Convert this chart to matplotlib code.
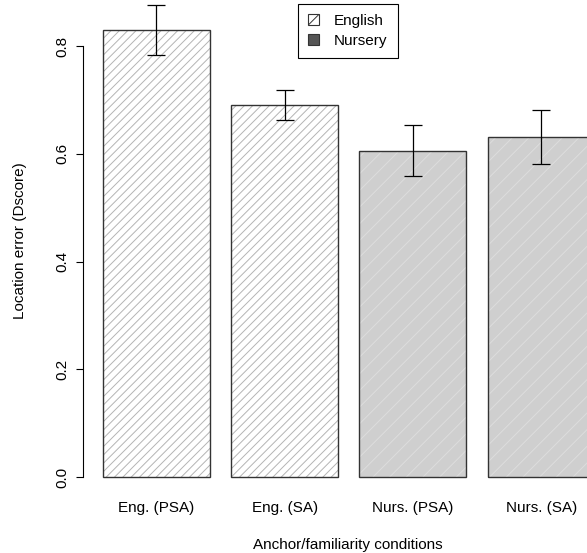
import numpy as np
import matplotlib.pyplot as plt
from matplotlib.patches import Patch

plt.rcParams['font.family'] = ['Liberation Sans', 'DejaVu Sans']
plt.rcParams['hatch.linewidth'] = 0.7

# mean location error and standard error per condition
conditions = ['Eng. (PSA)', 'Eng. (SA)', 'Nurs. (PSA)', 'Nurs. (SA)']
familiarity = ['English', 'English', 'Nursery', 'Nursery']
dscore = [0.830, 0.691, 0.606, 0.631]
se = [0.047, 0.028, 0.048, 0.050]

yticks = [0.0, 0.2, 0.4, 0.6, 0.8]

fig = plt.figure(figsize=(5.87, 5.53), dpi=100)
W, H = 587, 553
ax = fig.add_axes([83 / W, 1 - 490 / H, 504 / W, 490 / H])

# barplot layout: width 1, space 0.2
x = 0.2 + np.arange(len(dscore)) * 1.2 + 0.5

fill = {'English': 'white', 'Nursery': '#cfcfcf'}
hatchcol = {'English': '#b4b4b4', 'Nursery': '#dddddd'}
hatches = {'English': '////', 'Nursery': '//'}

for xi, v, f in zip(x, dscore, familiarity):
    ax.bar(xi, v, width=1.0, color=fill[f], edgecolor=hatchcol[f],
           hatch=hatches[f], linewidth=0)
    ax.bar(xi, v, width=1.0, fill=False, edgecolor='#333333', linewidth=1.0)

ax.errorbar(x, dscore, yerr=se, fmt='none', ecolor='black',
            elinewidth=0.9, capsize=6.5, capthick=0.9)

ax.set_xlim(0.016, 0.016 + 504 / 107)
ax.set_ylim(-13 / 538.75, 477 / 538.75)

for s in ['top', 'right', 'bottom']:
    ax.spines[s].set_visible(False)
ax.spines['left'].set_bounds(0, 0.8)
ax.spines['left'].set_linewidth(0.8)

ax.set_yticks(yticks)
ax.set_yticklabels([f'{t:.1f}' for t in yticks], rotation=90, va='center',
                   fontsize=11)
ax.tick_params(axis='y', length=5, width=0.8, pad=5)

ax.set_xticks(x)
ax.set_xticklabels(conditions, fontsize=11)
ax.tick_params(axis='x', length=0, pad=8)

ax.set_ylabel('Location error (Dscore)', fontsize=11)
ax.yaxis.set_label_coords((20 - 83) / 504, (490 - 241) / 490)
ax.yaxis.label.set_va('center')
fig.text(348 / W, 1 - 545 / H, 'Anchor/familiarity conditions',
         ha='center', va='center', fontsize=11)

handles = [Patch(facecolor='white', edgecolor='#333333', hatch='/', linewidth=0.8),
           Patch(facecolor='#555555', edgecolor='#333333', linewidth=0.8)]
leg = fig.legend(handles, ['English', 'Nursery'], loc='upper center',
                 bbox_to_anchor=(348 / W, 1 - 4 / H), fontsize=11,
                 fancybox=False, framealpha=1, edgecolor='black',
                 handlelength=0.7, handleheight=0.7, handletextpad=1.0,
                 borderpad=0.65, labelspacing=0.4, borderaxespad=0)
leg.get_frame().set_linewidth(0.8)

fig.savefig('out.png', dpi=100)
